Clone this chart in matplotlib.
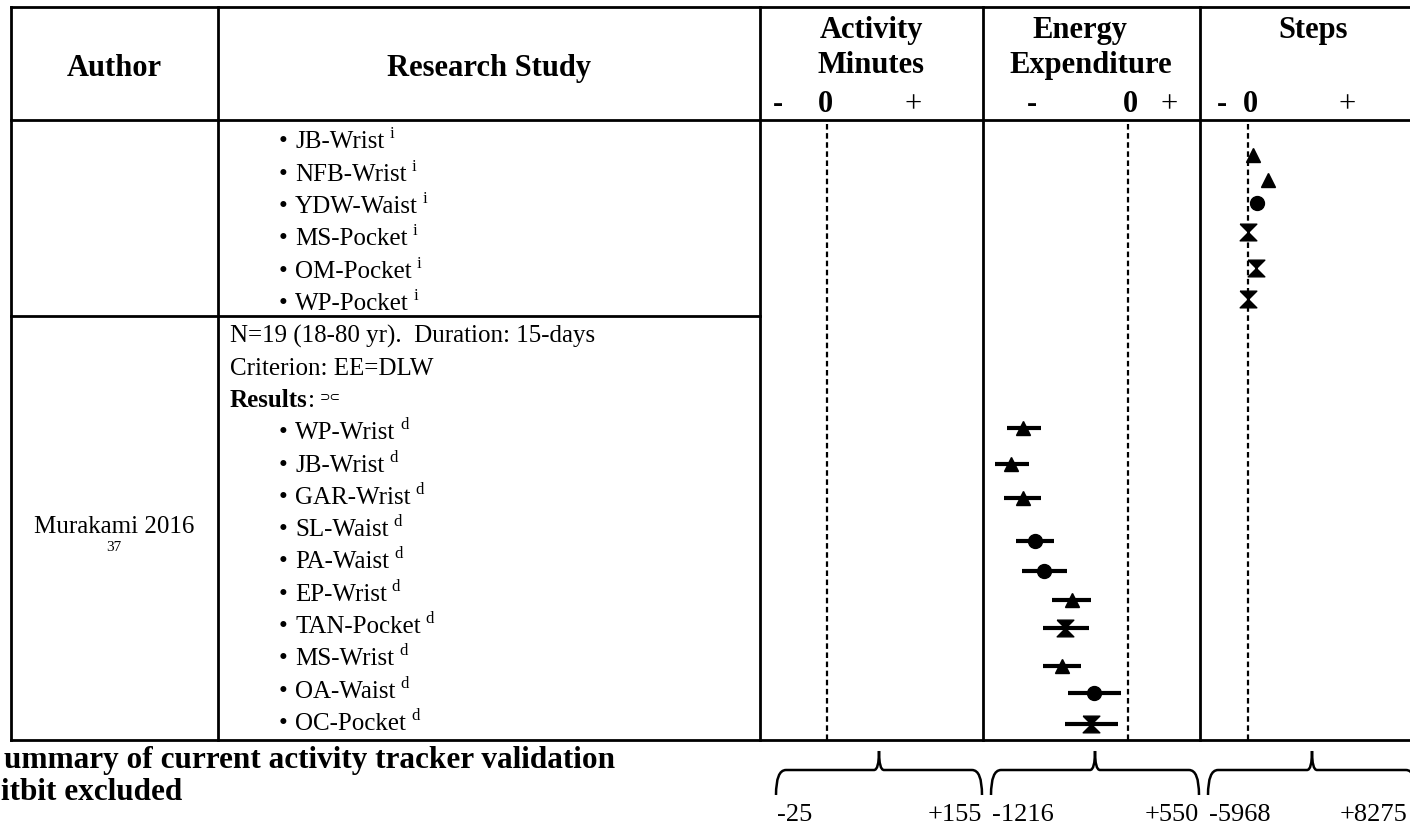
import matplotlib
matplotlib.use('Agg')
import matplotlib.pyplot as plt
from matplotlib.path import Path
from matplotlib.patches import PathPatch

W, H = 1410, 830
SERIF = ['Liberation Serif', 'DejaVu Serif']

# study column text
top_devices = ['JB-Wrist', 'NFB-Wrist', 'YDW-Waist', 'MS-Pocket', 'OM-Pocket', 'WP-Pocket']
top_note = 'i'
mur_author = 'Murakami 2016'
mur_ref = '37'
mur_lines = ['N=19 (18-80 yr).  Duration: 15-days', 'Criterion: EE=DLW']
mur_devices = ['WP-Wrist', 'JB-Wrist', 'GAR-Wrist', 'SL-Waist', 'PA-Waist',
               'EP-Wrist', 'TAN-Pocket', 'MS-Wrist', 'OA-Waist', 'OC-Pocket']
mur_note = 'd'

# steps panel, first study (difference from criterion, steps)
steps_row = [0.45, 1.22, 1.93, 2.82, 3.96, 4.92]
steps_val = [790, 3025, 1300, 40, 1150, 40]

# energy expenditure panel, Murakami 2016 (kcal)
ee_row = [8.91, 10.02, 11.08, 12.39, 13.33, 14.23, 15.10, 16.27, 17.11, 18.07]
ee_val = [-930, -1040, -930, -825, -745, -495, -560, -590, -300, -330]
ee_lo = [-1070, -1180, -1100, -995, -945, -675, -755, -755, -535, -560]
ee_hi = [-770, -880, -770, -655, -540, -330, -350, -420, -60, -90]

range_labels = [('-25', '+155'), ('-1216', '+550'), ('-5968', '+8275')]

hourglass = [(-1, 1), (1, 1), (-1, -1), (1, -1), (-1, 1)]
MARK = {'Wrist': ('^', 9.5), 'Waist': ('o', 10), 'Pocket': (hourglass, 12)}

# layout (pixels)
COLS = [11, 218, 760, 983, 1200]
Y_TOP, Y_HEAD, Y_ROW, Y_BOT = 7, 120, 316, 740
ROW0, ROWH = 140.5, 32.3


def row_y(k):
    return ROW0 + ROWH * k


fig = plt.figure(figsize=(14.1, 8.3), dpi=100)
bg = fig.add_axes([0, 0, 1, 1])
bg.set_xlim(0, W)
bg.set_ylim(H, 0)
bg.axis('off')
renderer = fig.canvas.get_renderer()

lk = dict(color='k', lw=2, solid_capstyle='projecting')
for y in (Y_TOP, Y_HEAD, Y_BOT):
    bg.plot([COLS[0], W], [y, y], **lk)
bg.plot([COLS[0], COLS[2]], [Y_ROW, Y_ROW], **lk)
for x in COLS:
    bg.plot([x, x], [Y_TOP, Y_BOT], **lk)


def seq(x, yb, parts):
    # place text pieces one after the other on a baseline
    for txt, size, weight, rise, gap, fam in parts:
        x += gap
        t = bg.text(x, yb - rise, txt, fontsize=size, fontweight=weight,
                    family=fam, va='baseline', ha='left')
        x += t.get_window_extent(renderer).width


# header
hd = dict(fontsize=22, fontweight='bold', family=SERIF, va='baseline', ha='center')
bg.text(114, 76, 'Author', **hd)
bg.text(489, 76, 'Research Study', **hd)
bg.text(871, 38, 'Activity', **hd)
bg.text(871, 73, 'Minutes', **hd)
bg.text(1080, 38, 'Energy', **hd)
bg.text(1091, 73, 'Expenditure', **hd)
bg.text(1313, 38, 'Steps', **hd)
for xm, x0, xp in [(778, 825, 913), (1032, 1130, 1169), (1222, 1250, 1347)]:
    bg.text(xm, 112, '-', **hd)
    bg.text(x0, 112, '0', **hd)
    bg.text(xp, 112, '+', fontsize=22, family=SERIF, va='baseline', ha='center')


# study text
def device_line(k, name, note):
    yb = row_y(k) + 8
    bg.text(283, yb, '\u2022', fontsize=18, family=SERIF, va='baseline', ha='center')
    seq(295, yb, [(name, 18, 'normal', 0, 0, SERIF), (note, 12, 'normal', 10, 5, SERIF)])


for k, name in enumerate(top_devices):
    device_line(k, name, top_note)

k0 = len(top_devices)
for i, line in enumerate(mur_lines):
    bg.text(230, row_y(k0 + i) + 8, line, fontsize=18, family=SERIF, va='baseline', ha='left')
k_res = k0 + len(mur_lines)
seq(230, row_y(k_res) + 8, [('Results', 18, 'bold', 0, 0, SERIF),
                            (':', 18, 'normal', 0, 0, SERIF),
                            ('\u2283\u2282', 9, 'normal', 7, 5, ['DejaVu Sans'])])
for i, name in enumerate(mur_devices):
    device_line(k_res + 1 + i, name, mur_note)

bg.text(114, 533, mur_author, fontsize=18, family=SERIF, va='baseline', ha='center')
bg.text(114, 551, mur_ref, fontsize=11, family=SERIF, va='baseline', ha='center')

# chart panels
r_top = (Y_HEAD - ROW0) / ROWH
r_bot = (Y_BOT - ROW0) / ROWH
panel_lims = [(-58.6, 136.4), (-1287, 639), (-7150, 24140)]
panels = []
for (x0, x1), lim in zip([(COLS[2], COLS[3]), (COLS[3], COLS[4]), (COLS[4], W)], panel_lims):
    ax = fig.add_axes([x0 / W, (H - Y_BOT) / H, (x1 - x0) / W, (Y_BOT - Y_HEAD) / H])
    ax.set_xlim(*lim)
    ax.set_ylim(r_bot, r_top)
    ax.axis('off')
    ax.patch.set_alpha(0)
    ax.axvline(0, color='k', lw=1.6, ls=(0, (2.5, 1.6)))
    panels.append(ax)

ax_ee, ax_st = panels[1], panels[2]
ax_ee.hlines(ee_row, ee_lo, ee_hi, colors='k', lw=3)
for name, r, v in zip(mur_devices, ee_row, ee_val):
    m, s = MARK[name.split('-')[1]]
    ax_ee.plot([v], [r], marker=m, ms=s, color='k', ls='none', zorder=3)
for name, r, v in zip(top_devices, steps_row, steps_val):
    m, s = MARK[name.split('-')[1]]
    ax_st.plot([v], [r], marker=m, ms=s, color='k', ls='none', zorder=3)


# range braces under the panels
def brace(x0, x1, top=751, mid=770, bot=795):
    xm = (x0 + x1) / 2
    verts = [(x0, bot), (x0, mid), (x0 + 10, mid), (xm - 5, mid), (xm, mid), (xm, top),
             (xm, mid), (xm + 5, mid), (x1 - 10, mid), (x1, mid), (x1, bot)]
    codes = [Path.MOVETO, Path.CURVE3, Path.CURVE3, Path.LINETO, Path.CURVE3, Path.CURVE3,
             Path.CURVE3, Path.CURVE3, Path.LINETO, Path.CURVE3, Path.CURVE3]
    bg.add_patch(PathPatch(Path(verts, codes), fill=False, lw=1.8, color='k'))


for (x0, x1), (lo, hi) in zip([(776, 982), (991, 1199), (1208, 1416)], range_labels):
    brace(x0, x1)
    bg.text(x0 + 1, 821, lo, fontsize=19, family=SERIF, va='baseline', ha='left')
    bg.text(min(x1, W - 3), 821, hi, fontsize=19, family=SERIF, va='baseline', ha='right')

# caption (cut at the left edge in the source)
bg.text(4, 768, 'ummary of current activity tracker validation', fontsize=22.5,
        fontweight='bold', family=SERIF, va='baseline', ha='left')
bg.text(1, 800, 'itbit excluded', fontsize=22.5, fontweight='bold', family=SERIF,
        va='baseline', ha='left')

fig.savefig('out.png', dpi=100)
